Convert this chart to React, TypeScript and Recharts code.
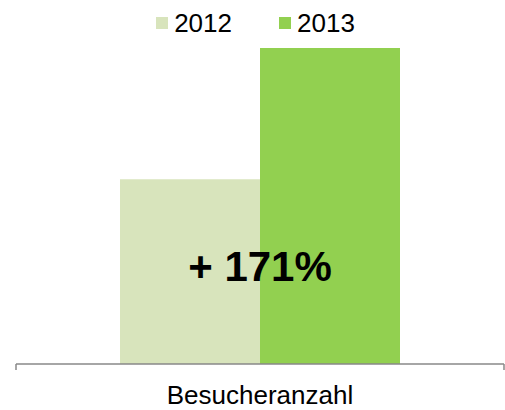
import React from 'react';
import { BarChart, Bar, XAxis, YAxis, Legend, ReferenceDot } from 'recharts';

const categories = ['Besucheranzahl'];
const values2012 = [58.5];
const values2013 = [100];
const seriesNames = ['2012', '2013'];
const changeLabel = '+ 171%';

const data = categories.map((c, i) => ({
  name: c,
  [seriesNames[0]]: values2012[i],
  [seriesNames[1]]: values2013[i],
}));

const colors = ['#D8E4BC', '#92D050'];
const FONT = '"Liberation Sans", Arial, sans-serif';

const Tick = (props: any) => {
  const { x, y, payload } = props;
  const off = payload.offset || 0;
  return (
    <g>
      <line x1={x - off} x2={x - off} y1={y - 22} y2={y - 16} stroke="#898989" strokeWidth={1.5} />
      <line x1={x + off} x2={x + off} y1={y - 22} y2={y - 16} stroke="#898989" strokeWidth={1.5} />
      <text x={x} y={y} dy="0.71em" textAnchor="middle" fontSize={26} fill="#000" fontFamily={FONT}>
        {payload.value}
      </text>
    </g>
  );
};

const LegendContent = () => (
  <div style={{ display: 'flex', justifyContent: 'center', paddingLeft: 6, fontFamily: FONT, fontSize: 26, color: '#000', lineHeight: '30px', height: 30 }}>
    {seriesNames.map((n, i) => (
      <div key={n} style={{ display: 'flex', alignItems: 'center', marginRight: i === 0 ? 47 : 0 }}>
        <span style={{ display: 'inline-block', width: 12, height: 12, background: colors[i], marginRight: 6 }} />
        <span>{n}</span>
      </div>
    ))}
  </div>
);

export default function App() {
  return (
    <div style={{ position: 'absolute', left: 0, top: 0, width: 505, height: 410, background: '#fff' }}>
      <BarChart
        width={505}
        height={410}
        data={data}
        margin={{ top: 18, right: 1, bottom: 6, left: 16 }}
        barGap={0}
        barCategoryGap={104}
      >
        <XAxis
          dataKey="name"
          axisLine={{ stroke: '#898989', strokeWidth: 1.5 }}
          tickLine={false}
          tick={<Tick />}
          tickMargin={16}
          tickSize={6}
          height={40}
          interval={0}
        />
        <YAxis hide domain={[0, 100]} />
        <Legend verticalAlign="top" content={<LegendContent />} wrapperStyle={{ top: 8, left: 0, width: 505 }} />
        <Bar dataKey={seriesNames[0]} fill={colors[0]} isAnimationActive={false} />
        <Bar dataKey={seriesNames[1]} fill={colors[1]} isAnimationActive={false} />
        <ReferenceDot
          x={categories[0]}
          y={31}
          r={0}
          fill="none"
          stroke="none"
          label={{ value: changeLabel, position: 'center', fontSize: 42, fontWeight: 'bold', fill: '#000', fontFamily: FONT }}
        />
      </BarChart>
    </div>
  );
}
